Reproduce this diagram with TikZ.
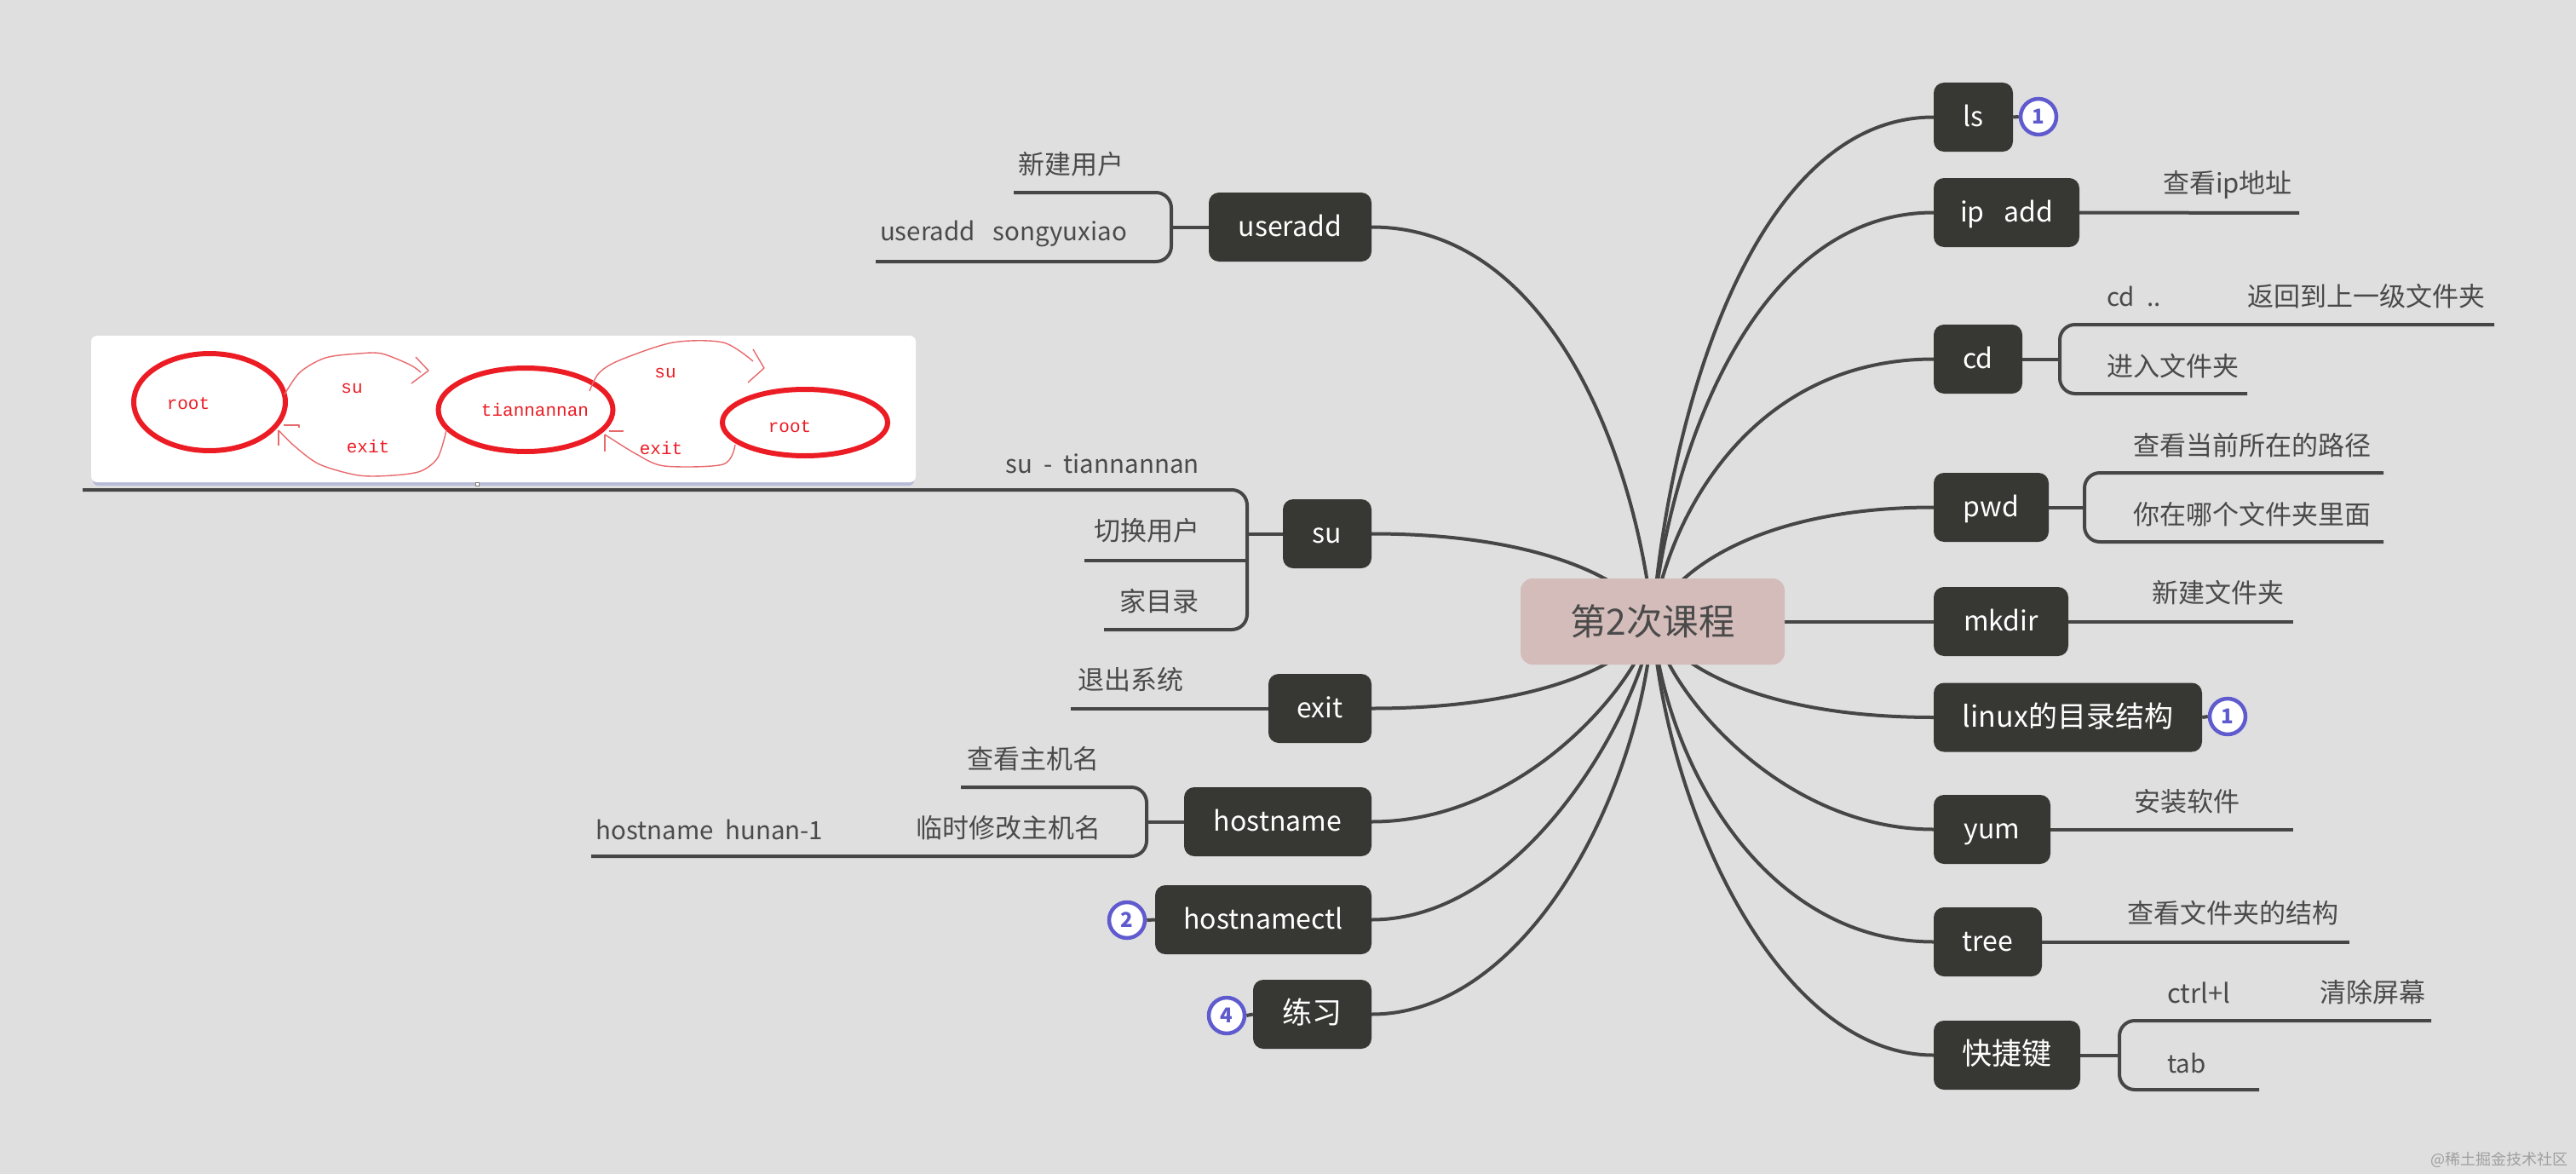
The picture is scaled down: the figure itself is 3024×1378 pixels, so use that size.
\documentclass[tikz,border=0pt]{standalone}
\usepackage{fontspec}
\setmainfont{Noto Sans CJK SC}
\newfontfamily\handfont{Liberation Mono}
\usetikzlibrary{backgrounds,shapes.geometric}
\definecolor{bgc}{HTML}{DFDFDF}
\definecolor{topicc}{HTML}{373733}
\definecolor{rootc}{HTML}{D3BCB9}
\definecolor{linec}{HTML}{464646}
\definecolor{textc}{HTML}{4A4A4A}
\definecolor{markc}{HTML}{5F5BCF}
\definecolor{redc}{HTML}{EC1C24}
\definecolor{thinred}{HTML}{E8696C}
\definecolor{shadowc}{HTML}{B8BBD6}
\newcommand{\fsz}[1]{\fontsize{#1}{#1}\selectfont}
\tikzset{
  x=1pt,y=-1pt,
  topic/.style={fill=topicc,text=white,rounded corners=12pt,minimum height=81pt,inner sep=0pt,text height=27pt,text depth=5pt,font=\fsz{32}},
  topiccjk/.style={topic,font=\fsz{35}},
  central/.style={fill=rootc,text=textc,rounded corners=14pt,minimum width=310pt,minimum height=101pt,inner sep=0pt,font=\fsz{42.5}},
  label/.style={text=textc,inner sep=0pt,font=\fsz{31}},
  latinlabel/.style={text=textc,inner sep=0pt,font=\fsz{29.5}},
  badge/.style={circle,draw=markc,line width=4.5pt,fill=white,text=markc,minimum size=42pt,inner sep=0pt,font=\fsz{24}\bfseries},
  link/.style={draw=linec,line width=4pt},
  brace/.style={draw=linec,line width=4pt,rounded corners=18pt},
  ring/.style={draw=redc,ellipse,line width=6pt,fill=none,inner sep=0pt},
  hand/.style={text=redc,inner sep=0pt,font=\handfont\fsz{21}},
  pen/.style={draw=thinred,line width=1.4pt,line join=round},
}
\begin{document}
\begin{tikzpicture}
\useasboundingbox (0,0) rectangle (3024,1378);
% central
\node[central] (c) at (1940,729.5) {第2次课程};
% right topics
\node[topic,minimum width=93pt] (ls) at (2316.5,137.5) {ls};
\node[topic,minimum width=171pt] (ip) at (2355.5,249.5) {ip\hspace{0.7em}add};
\node[topic,minimum width=104pt] (cd) at (2322,421.5) {cd};
\node[topic,minimum width=135pt] (pwd) at (2337.5,595.5) {pwd};
\node[topic,minimum width=158pt] (mkdir) at (2349,729.5) {mkdir};
\node[topiccjk,minimum width=315pt,font=\fsz{34}] (linux) at (2427.5,842) {linux的目录结构};
\node[topic,minimum width=137pt] (yum) at (2338.5,973.5) {yum};
\node[topic,minimum width=127pt] (tree) at (2333.5,1105.5) {tree};
\node[topiccjk,minimum width=172pt] (key) at (2356,1238.5) {快捷键};
% left topics
\node[topic,minimum width=191pt] (useradd) at (1514.5,266.5) {useradd};
\node[topic,minimum width=104pt] (su) at (1558,626.5) {su};
\node[topic,minimum width=121pt] (exit) at (1549.5,831.5) {exit};
\node[topic,minimum width=220pt] (hostname) at (1500,964.5) {hostname};
\node[topic,minimum width=254pt] (hostnamectl) at (1483,1079.5) {hostnamectl};
\node[topiccjk,minimum width=139pt] (lianxi) at (1540.5,1190.5) {练习};
% badges
\node[badge] (b1) at (2393,137) {1};
\node[badge] (b2) at (2615,841) {1};
\node[badge] (b3) at (1323,1080) {2};
\node[badge] (b4) at (1440,1192) {4};
% labels right
\node[label] (t1) at (2615,217) {查看ip地址};
\node[latinlabel,anchor=west] (t2) at (2473,348) {cd\hspace{0.5em}..};
\node[label] (t3) at (2778,348) {返回到上一级文件夹};
\node[label,anchor=west] (t4) at (2473,430) {进入文件夹};
\node[label] (t5) at (2644,523) {查看当前所在的路径};
\node[label] (t6) at (2644,604) {你在哪个文件夹里面};
\node[label] (t7) at (2604,696) {新建文件夹};
\node[label] (t8) at (2567,941) {安装软件};
\node[label] (t9) at (2621,1072) {查看文件夹的结构};
\node[label,anchor=west] (t10) at (2544,1165) {ctrl+l};
\node[label] (t11) at (2785,1165) {清除屏幕};
\node[latinlabel,anchor=west] (t12) at (2544,1248) {tab};
% labels left
\node[label] (l1) at (1257,193) {新建用户};
\node[latinlabel] (l2) at (1178,274) {useradd\hspace{0.7em}songyuxiao};
\node[latinlabel] (l3) at (1294,544) {su\hspace{0.45em}-\hspace{0.45em}tiannannan};
\node[label] (l4) at (1346,623) {切换用户};
\node[label] (l5) at (1361,706) {家目录};
\node[label] (l6) at (1327,798) {退出系统};
\node[label] (l7) at (1213,891) {查看主机名};
\node[label] (l8) at (1184,972) {临时修改主机名};
\node[latinlabel] (l9) at (833,974) {hostname\hspace{0.45em}hunan-1};
% free ends
\coordinate (eip) at (2699,250);
\coordinate (cdv) at (2418,421.5);
\coordinate (cda) at (2928,381);
\coordinate (cdb) at (2638,462);
\coordinate (pwv) at (2447,595.5);
\coordinate (pwa) at (2798,555);
\coordinate (pwb) at (2798,636);
\coordinate (emk) at (2692,729.5);
\coordinate (eyu) at (2692,973.5);
\coordinate (etr) at (2758,1105.5);
\coordinate (kev) at (2488,1238.5);
\coordinate (kea) at (2854,1198);
\coordinate (keb) at (2652,1279);
\coordinate (uav) at (1375,266.5);
\coordinate (uaa) at (1190,226);
\coordinate (uab) at (1028,307);
\coordinate (suv) at (1464,626.5);
\coordinate (sua) at (97,575);
\coordinate (sum) at (1273,658);
\coordinate (sub) at (1296,739);
\coordinate (eex) at (1257,831.5);
\coordinate (hov) at (1346,964.5);
\coordinate (hoa) at (1128,924);
\coordinate (hob) at (694,1005);
\begin{pgfonlayer}{background}
\fill[bgc] (0,0) rectangle (3024,1378);
% central links
\draw[link] (c.center) .. controls (1960,480) and (2060,137.5) .. (ls.west);
\draw[link] (c.center) .. controls (1960,528) and (2060,249.5) .. (ip.west);
\draw[link] (c.center) .. controls (1960,600) and (2060,421.5) .. (cd.west);
\draw[link] (c.center) .. controls (1960,674) and (2060,595.5) .. (pwd.west);
\draw[link] (c.center) -- (mkdir.west);
\draw[link] (c.center) .. controls (1960,777) and (2060,842) .. (linux.west);
\draw[link] (c.center) .. controls (1955,810) and (2090,973.5) .. (yum.west);
\draw[link] (c.center) .. controls (1955,895) and (2070,1105.5) .. (tree.west);
\draw[link] (c.center) .. controls (1955,945) and (2085,1238.5) .. (key.west);
\draw[link] (c.center) .. controls (1920,536) and (1820,266.5) .. (useradd.east);
\draw[link] (c.center) .. controls (1920,687) and (1820,626.5) .. (su.east);
\draw[link] (c.center) .. controls (1920,773) and (1820,831.5) .. (exit.east);
\draw[link] (c.center) .. controls (1925,800) and (1790,964.5) .. (hostname.east);
\draw[link] (c.center) .. controls (1925,835) and (1790,1079.5) .. (hostnamectl.east);
\draw[link] (c.center) .. controls (1925,935) and (1790,1190.5) .. (lianxi.east);
% right leaves
\draw[link] (ls.east) -- (b1.west);
\draw[link] (linux.east) -- (b2.west);
\draw[link] (ip.east) -- (eip);
\draw[link] (mkdir.east) -- (emk);
\draw[link] (yum.east) -- (eyu);
\draw[link] (tree.east) -- (etr);
\draw[link] (cd.east) -- (cdv);
\draw[brace] (cda) -- (cdv |- cda) -- (cdv |- cdb) -- (cdb);
\draw[link] (pwd.east) -- (pwv);
\draw[brace] (pwa) -- (pwv |- pwa) -- (pwv |- pwb) -- (pwb);
\draw[link] (key.east) -- (kev);
\draw[brace] (kea) -- (kev |- kea) -- (kev |- keb) -- (keb);
% left leaves
\draw[link] (hostnamectl.west) -- (b3.east);
\draw[link] (lianxi.west) -- (b4.east);
\draw[link] (exit.west) -- (eex);
\draw[link] (useradd.west) -- (uav);
\draw[brace] (uaa) -- (uav |- uaa) -- (uav |- uab) -- (uab);
\draw[link] (su.west) -- (suv);
\draw[brace] (sua) -- (suv |- sua) -- (suv |- sub) -- (sub);
\draw[link] (sum) -- (suv |- sum);
\draw[link] (hostname.west) -- (hov);
\draw[brace] (hoa) -- (hov |- hoa) -- (hov |- hob) -- (hob);
\end{pgfonlayer}
% screenshot panel
\fill[shadowc,rounded corners=6pt] (109,400) rectangle (1073,570);
\fill[white,rounded corners=7pt] (107,394) rectangle (1075,566);
\fill[white,draw=gray,line width=.8pt] (558,566) rectangle (562,570);
\node[ring,minimum width=178pt,minimum height=114pt] (r1) at (246,472) {};
\node[ring,minimum width=205pt,minimum height=98pt] (r2) at (617,481) {};
\node[ring,minimum width=194pt,minimum height=78pt] (r3) at (945,496) {};
\node[hand] (h1) at (221,474) {root};
\node[hand] (h2) at (413,456) {su};
\node[hand] (h3) at (432,524) {exit};
\node[hand] (h4) at (628,481) {tiannannan};
\node[hand] (h5) at (781,438) {su};
\node[hand] (h6) at (776,526) {exit};
\node[hand] (h7) at (927,501) {root};
% hand-drawn arrows
\draw[pen] plot[smooth] coordinates {(334,463) (352,437) (382,420) (421,415) (448,415) (481,428) (494,437)};
\draw[pen] (488,419) -- (503,435) -- (483,450);
\draw[pen] plot[smooth] coordinates {(524,505) (514,537) (494,553) (461,558) (421,558) (375,545) (345,523) (327,505)};
\draw[pen] (327,505) -- (327,523);
\draw[pen] (333,499) -- (351,499) -- (351,502);
\draw[pen] plot[smooth] coordinates {(692,459) (703,438) (727,423) (790,402) (849,402) (884,424)};
\draw[pen] (884,410) -- (897,432) -- (878,449);
\draw[pen] plot[smooth] coordinates {(863,522) (849,545) (780,547) (747,533) (710,510)};
\draw[pen] (710,510) -- (710,530);
\draw[pen] (715,506) -- (732,506);
% watermark
\node[text=gray!75,inner sep=0pt,font=\fsz{18}] (wm) at (2934,1361) {@稀土掘金技术社区};
\end{tikzpicture}
\end{document}
